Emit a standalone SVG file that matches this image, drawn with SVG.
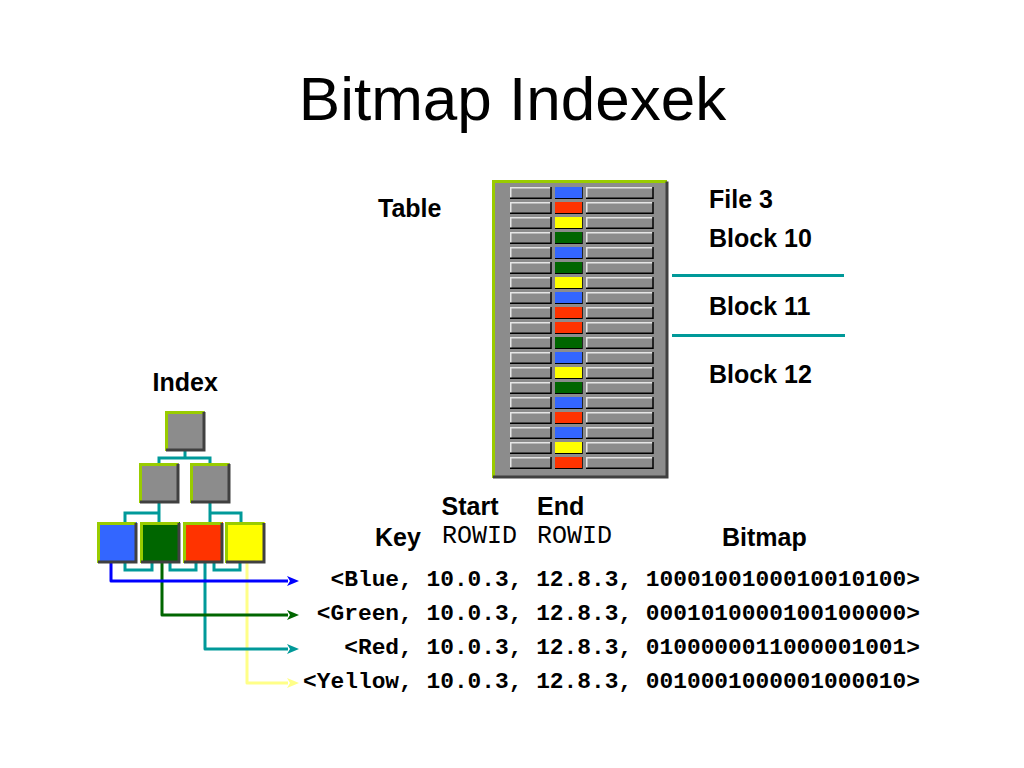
<svg xmlns="http://www.w3.org/2000/svg" xmlns:xlink="http://www.w3.org/1999/xlink" width="1024" height="768" viewBox="0 0 1024 768">
<style>
.t{font-family:"Liberation Sans",Arial,sans-serif;fill:#000}
.lb{font-family:"Liberation Sans",Arial,sans-serif;font-weight:bold;font-size:25px;fill:#000}
.mono{font-family:"Liberation Mono","Courier New",monospace;fill:#000}
.rec{font-size:22.85px;font-weight:bold}
.box{fill:#8c8c8c}
.hl{fill:none;stroke:#99cc00;stroke-width:3}
.sh{fill:none;stroke:#404040;stroke-width:3}
.cell{fill:#8c8c8c}
.chl{fill:none;stroke:#e6e6e6;stroke-width:1.5}
.csh{fill:none;stroke:#000;stroke-width:1.5}
.tl{fill:none;stroke:#009999;stroke-width:3}
.bl{fill:#3366ff}.gr{fill:#006600}.rd{fill:#ff3300}.ye{fill:#ffff00}
.conn{fill:none;stroke-width:3;stroke-linejoin:round}
</style>
<defs>
<marker id="aB" markerUnits="userSpaceOnUse" markerWidth="13" markerHeight="10" refX="1" refY="5" orient="auto"><path d="M0,0 L12,5 L0,10 L3,5 z" fill="#0000ff"/></marker>
<marker id="aG" markerUnits="userSpaceOnUse" markerWidth="13" markerHeight="10" refX="1" refY="5" orient="auto"><path d="M0,0 L12,5 L0,10 L3,5 z" fill="#006600"/></marker>
<marker id="aT" markerUnits="userSpaceOnUse" markerWidth="13" markerHeight="10" refX="1" refY="5" orient="auto"><path d="M0,0 L12,5 L0,10 L3,5 z" fill="#009999"/></marker>
<marker id="aY" markerUnits="userSpaceOnUse" markerWidth="13" markerHeight="10" refX="1" refY="5" orient="auto"><path d="M0,0 L12,5 L0,10 L3,5 z" fill="#ffff88"/></marker>
<g id="row">
<rect class="cell" x="510" y="187" width="41" height="11"/>
<path class="chl" d="M510.75 198 V187.75 H551"/>
<path class="csh" d="M551 187 V198.25 H510"/>
<rect class="cell" x="586" y="187" width="67" height="11"/>
<path class="chl" d="M586.75 198 V187.75 H653"/>
<path class="csh" d="M653 187 V198.25 H586"/>
<path class="csh" d="M582 187 V198.25 H555"/>
</g>
</defs>

<text class="t" x="512.5" y="120" font-size="62" text-anchor="middle">Bitmap Indexek</text>

<g id="table">
<rect class="box" x="492" y="180" width="175" height="298"/>
<path class="hl" d="M493.5 478 V181.5 H667"/>
<path class="sh" d="M667 181.5 V477 H493"/>
<use xlink:href="#row" y="0"/><rect class="bl" x="555" y="187" width="27" height="11"/>
<use xlink:href="#row" y="15"/><rect class="rd" x="555" y="202" width="27" height="11"/>
<use xlink:href="#row" y="30"/><rect class="ye" x="555" y="217" width="27" height="11"/>
<use xlink:href="#row" y="45"/><rect class="gr" x="555" y="232" width="27" height="11"/>
<use xlink:href="#row" y="60"/><rect class="bl" x="555" y="247" width="27" height="11"/>
<use xlink:href="#row" y="75"/><rect class="gr" x="555" y="262" width="27" height="11"/>
<use xlink:href="#row" y="90"/><rect class="ye" x="555" y="277" width="27" height="11"/>
<use xlink:href="#row" y="105"/><rect class="bl" x="555" y="292" width="27" height="11"/>
<use xlink:href="#row" y="120"/><rect class="rd" x="555" y="307" width="27" height="11"/>
<use xlink:href="#row" y="135"/><rect class="rd" x="555" y="322" width="27" height="11"/>
<use xlink:href="#row" y="150"/><rect class="gr" x="555" y="337" width="27" height="11"/>
<use xlink:href="#row" y="165"/><rect class="bl" x="555" y="352" width="27" height="11"/>
<use xlink:href="#row" y="180"/><rect class="ye" x="555" y="367" width="27" height="11"/>
<use xlink:href="#row" y="195"/><rect class="gr" x="555" y="382" width="27" height="11"/>
<use xlink:href="#row" y="210"/><rect class="bl" x="555" y="397" width="27" height="11"/>
<use xlink:href="#row" y="225"/><rect class="rd" x="555" y="412" width="27" height="11"/>
<use xlink:href="#row" y="240"/><rect class="bl" x="555" y="427" width="27" height="11"/>
<use xlink:href="#row" y="255"/><rect class="ye" x="555" y="442" width="27" height="11"/>
<use xlink:href="#row" y="270"/><rect class="rd" x="555" y="457" width="27" height="11"/>
</g>

<g id="block-lines">
<path class="tl" d="M672 275.5 H844 M672 335.5 H845"/>
</g>

<text class="lb" x="378" y="217">Table</text>
<text class="lb" x="709" y="208">File 3</text>
<text class="lb" x="709" y="247">Block 10</text>
<text class="lb" x="709" y="315">Block 11</text>
<text class="lb" x="709" y="383">Block 12</text>
<text class="lb" x="152.5" y="391">Index</text>
<text class="lb" x="441.5" y="515">Start</text>
<text class="lb" x="537" y="515">End</text>
<text class="lb" x="375" y="546">Key</text>
<text class="lb" x="722" y="546">Bitmap</text>
<text class="mono" x="442" y="543" font-size="25">ROWID</text>
<text class="mono" x="537" y="543" font-size="25">ROWID</text>

<g id="connectors">
<path class="tl" d="M185 450 V458 M159 463 V458 H210 V463"/>
<path class="tl" d="M159 503 V522 M125 522 V513 H159"/>
<path class="tl" d="M210 503 V522 M210 513 H241 V522"/>
<path class="tl" d="M125 562 V570 H152 V562 M170 562 V570 H196 V562 M214 562 V570 H240 V562"/>
<path class="conn" stroke="#ffff88" d="M247 562 V683 H288" marker-end="url(#aY)"/>
<path class="conn" stroke="#009999" d="M205 562 V649 H288" marker-end="url(#aT)"/>
<path class="conn" stroke="#006600" d="M162 562 V615 H288" marker-end="url(#aG)"/>
<path class="conn" stroke="#0000ff" d="M111 562 V581 H288" marker-end="url(#aB)"/>
</g>

<g id="node-root">
<rect class="box" x="165" y="411" width="40" height="40"/>
<path class="hl" d="M166.5 451 V412.5 H204"/><path class="sh" d="M204 412 V450 H166"/>
</g>
<g id="node-mid-left">
<rect class="box" x="139" y="463" width="40" height="40"/>
<path class="hl" d="M140.5 503 V464.5 H178"/><path class="sh" d="M178 464 V502 H140"/>
</g>
<g id="node-mid-right">
<rect class="box" x="190" y="463" width="40" height="40"/>
<path class="hl" d="M191.5 503 V464.5 H229"/><path class="sh" d="M229 464 V502 H191"/>
</g>
<g id="leaf-blue">
<rect class="bl" x="97" y="522" width="40" height="41"/>
<path class="hl" d="M98.5 563 V523.5 H136"/><path class="sh" d="M136 523 V562 H98"/>
</g>
<g id="leaf-green">
<rect class="gr" x="140" y="522" width="40" height="41"/>
<path class="hl" d="M141.5 563 V523.5 H179"/><path class="sh" d="M179 523 V562 H141"/>
</g>
<g id="leaf-red">
<rect class="rd" x="183" y="522" width="40" height="41"/>
<path class="hl" d="M184.5 563 V523.5 H222"/><path class="sh" d="M222 523 V562 H184"/>
</g>
<g id="leaf-yellow">
<rect class="ye" x="225" y="522" width="40" height="41"/>
<path class="hl" d="M226.5 563 V523.5 H264"/><path class="sh" d="M264 523 V562 H226"/>
</g>

<g id="records">
<text class="mono rec" x="920" y="586" text-anchor="end">&lt;Blue, 10.0.3, 12.8.3, 1000100100010010100&gt;</text>
<text class="mono rec" x="920" y="620" text-anchor="end">&lt;Green, 10.0.3, 12.8.3, 0001010000100100000&gt;</text>
<text class="mono rec" x="920" y="654" text-anchor="end">&lt;Red, 10.0.3, 12.8.3, 0100000011000001001&gt;</text>
<text class="mono rec" x="920" y="688" text-anchor="end">&lt;Yellow, 10.0.3, 12.8.3, 0010001000001000010&gt;</text>
</g>
</svg>
